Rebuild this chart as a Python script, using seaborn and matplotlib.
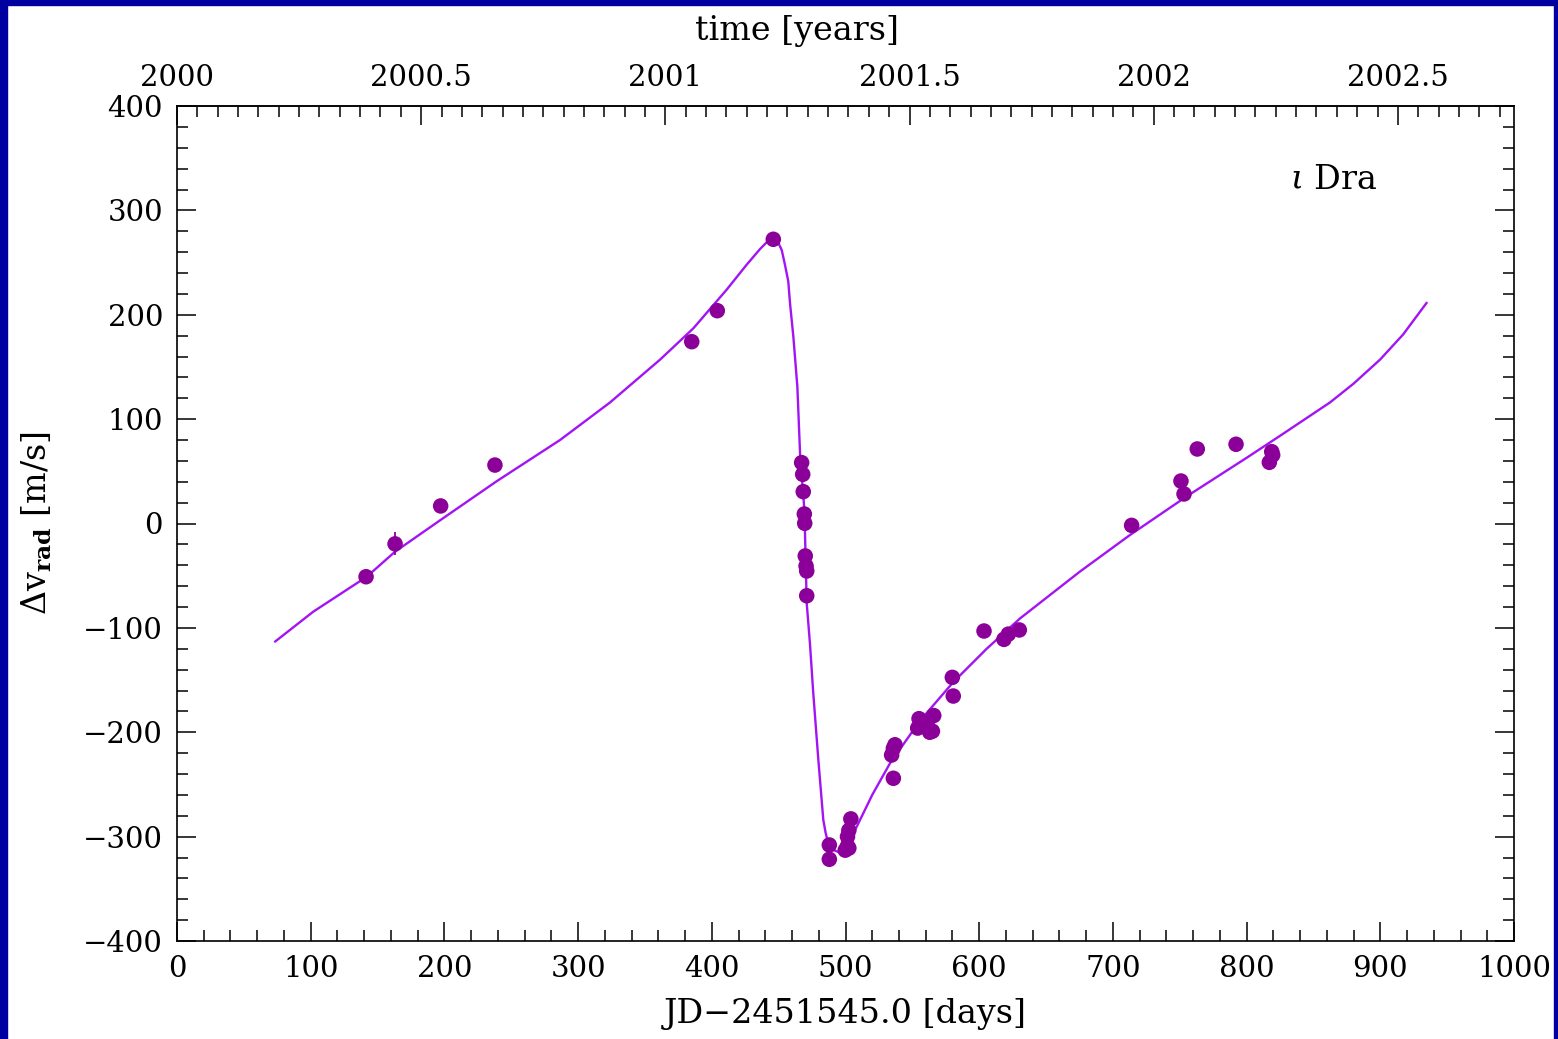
import numpy as np
import pandas as pd
import matplotlib
matplotlib.use("Agg")
import matplotlib.pyplot as plt
from matplotlib.ticker import MultipleLocator, FuncFormatter
from matplotlib.patches import Rectangle
import seaborn as sns

# ---------------- data ----------------
obs_day = [141.4, 163.1, 197.2, 237.8, 385.0, 404.1, 446.0,
           467.2, 468.0, 468.4, 469.2, 469.5, 469.9, 470.5, 471.0, 471.0,
           487.9, 487.9, 499.8, 501.5, 502.5, 501.5, 502.5, 504.0,
           534.5, 535.8, 537.0, 535.8,
           555.0, 554.0, 561.0, 566.0, 563.0, 565.0,
           579.9, 580.6, 603.6, 618.5, 621.8, 630.0,
           714.0, 750.9, 753.2, 763.1, 792.1, 818.8, 819.5, 817.0]
obs_v = [-51.0, -19.5, 16.8, 56.0, 174.2, 203.9, 272.3,
         58.3, 47.1, 30.5, 9.1, 0.2, -31.1, -40.7, -45.5, -69.2,
         -308.0, -321.7, -313.0, -309.0, -311.0, -300.0, -294.0, -283.0,
         -221.8, -215.4, -212.0, -244.1,
         -187.0, -196.0, -191.0, -184.0, -200.0, -199.0,
         -147.4, -165.3, -103.0, -111.0, -106.0, -102.0,
         -1.8, 40.7, 28.3, 71.4, 75.9, 68.8, 65.6, 58.6]
obs_err = [4, 11, 4, 4, 4, 4, 4,
           4, 4, 4, 4, 4, 4, 4, 4, 4,
           4, 4, 4, 4, 4, 4, 4, 4,
           4, 4, 4, 4,
           4, 4, 4, 4, 4, 4,
           4, 4, 4, 4, 4, 4,
           4, 4, 4, 4, 4, 4, 4, 4]

fit_day = [73.3, 101.9, 141.9, 163.1, 196.7, 239.1, 286.5, 323.9, 361.3,
           386.2, 411.1, 426.1, 436.1, 441.1, 446.0, 449.7, 452.3, 454.7,
           457.2, 458.5, 461.0, 464.0, 466.0, 469.3, 471.0, 473.4, 475.9,
           479.7, 483.4, 485.2, 487.1, 490.5, 495.9, 502.1, 508.4, 520.0,
           533.3, 555.7, 580.6, 605.6, 630.5, 675.4, 712.8, 755.2, 800.1,
           825.0, 862.4, 880.0, 899.8, 917.0, 934.7]
fit_v = [-113.2, -84.5, -51.0, -27.0, 3.0, 40.5, 80.0, 116.0, 157.0,
         187.0, 224.0, 248.0, 263.0, 269.5, 272.0, 269.0, 262.0, 248.0,
         232.0, 211.0, 179.0, 131.0, 67.3, 12.0, -76.5, -114.8, -162.7,
         -226.6, -284.0, -296.8, -306.4, -312.5, -315.4, -306.4, -290.5, -260.0,
         -229.7, -189.0, -152.0, -120.0, -91.0, -46.0, -11.0, 26.0, 63.0,
         84.0, 116.0, 134.0, 157.0, 181.0, 211.5]

year_ticks = [2000, 2000.5, 2001, 2001.5, 2002, 2002.5]
star_label = r"$\iota$ Dra"

# ---------------- style ----------------
sns.set_theme(style="ticks")
plt.rcParams["font.family"] = ["DejaVu Serif"]
plt.rcParams["mathtext.fontset"] = "dejavuserif"
plt.rcParams["axes.unicode_minus"] = True
plt.rcParams["text.color"] = "black"
plt.rcParams["axes.labelcolor"] = "black"

dot_color = "#8B0099"
line_color = "#A314F5"
frame_blue = "#0000A0"
TICK_FS = 21
LABEL_FS = 24

fig = plt.figure(figsize=(15.58, 10.39), dpi=100, facecolor="white")
ax = fig.add_axes([177/1558, 1 - 941/1039, (1514-177)/1558, (941-106)/1039])
ax.set_facecolor("white")

df_fit = pd.DataFrame({"day": fit_day, "v": fit_v})
df_obs = pd.DataFrame({"day": obs_day, "v": obs_v, "err": obs_err})

sns.lineplot(data=df_fit, x="day", y="v", ax=ax, color=line_color,
             linewidth=1.7, estimator=None, sort=False, zorder=2)
ax.errorbar(df_obs["day"], df_obs["v"], yerr=df_obs["err"], fmt="none",
            ecolor=dot_color, elinewidth=1.3, capsize=0, zorder=3)
sns.scatterplot(data=df_obs, x="day", y="v", ax=ax, color=dot_color,
                s=125, edgecolor="none", linewidth=0, zorder=4)

ax.set_xlim(0, 1000)
ax.set_ylim(-400, 400)
ax.xaxis.set_major_locator(MultipleLocator(100))
ax.xaxis.set_minor_locator(MultipleLocator(20))
ax.yaxis.set_major_locator(MultipleLocator(100))
ax.yaxis.set_minor_locator(MultipleLocator(20))

ax.tick_params(axis="both", which="both", direction="in", colors="black",
               labelcolor="black", width=1.1, labelsize=TICK_FS)
ax.tick_params(axis="both", which="major", length=14)
ax.tick_params(axis="both", which="minor", length=8)
ax.tick_params(axis="y", which="both", left=True, right=True, pad=10)
ax.tick_params(axis="x", which="both", bottom=True, top=False, pad=10)
for s in ax.spines.values():
    s.set_color("black")
    s.set_linewidth(1.2)

ax.set_xlabel("JD\u22122451545.0 [days]", fontsize=LABEL_FS, color="black")
ax.set_ylabel(r"$\Delta \mathrm{v}_{\mathbf{rad}}$ [m/s]", fontsize=LABEL_FS,
              color="black")
ax.xaxis.set_label_coords(0.5, -0.068)
ax.yaxis.set_label_coords(-0.092, 0.5)

sec = ax.secondary_xaxis("top", functions=(lambda d: 2000 + d / 365.25,
                                           lambda y: (y - 2000) * 365.25))
sec.set_xticks(year_ticks)
sec.xaxis.set_minor_locator(MultipleLocator(1 / 24))
sec.xaxis.set_major_formatter(FuncFormatter(lambda v, p: f"{v:g}"))
sec.tick_params(axis="x", which="both", direction="in", colors="black",
                labelcolor="black", width=1.1, labelsize=TICK_FS, pad=10)
sec.tick_params(axis="x", which="major", length=14)
sec.tick_params(axis="x", which="minor", length=8)
sec.spines["top"].set_linewidth(1.2)
sec.set_xlabel("time [years]", fontsize=LABEL_FS, color="black", labelpad=17)
sec.xaxis.label.set_x(0.4637)

ax.text(0.8325, 0.911, star_label, transform=ax.transAxes, fontsize=LABEL_FS,
        ha="left", va="center", color="black")

# blue frame around the figure
fig.patches.append(Rectangle((0, 0), 7/1558, 1, transform=fig.transFigure,
                             color=frame_blue, zorder=10))
fig.patches.append(Rectangle((0, 1 - 5/1039), 1, 5/1039, transform=fig.transFigure,
                             color=frame_blue, zorder=10))
fig.patches.append(Rectangle((1 - 4/1558, 0), 4/1558, 1, transform=fig.transFigure,
                             color=frame_blue, zorder=10))

fig.savefig("out.png", dpi=100, facecolor="white")
